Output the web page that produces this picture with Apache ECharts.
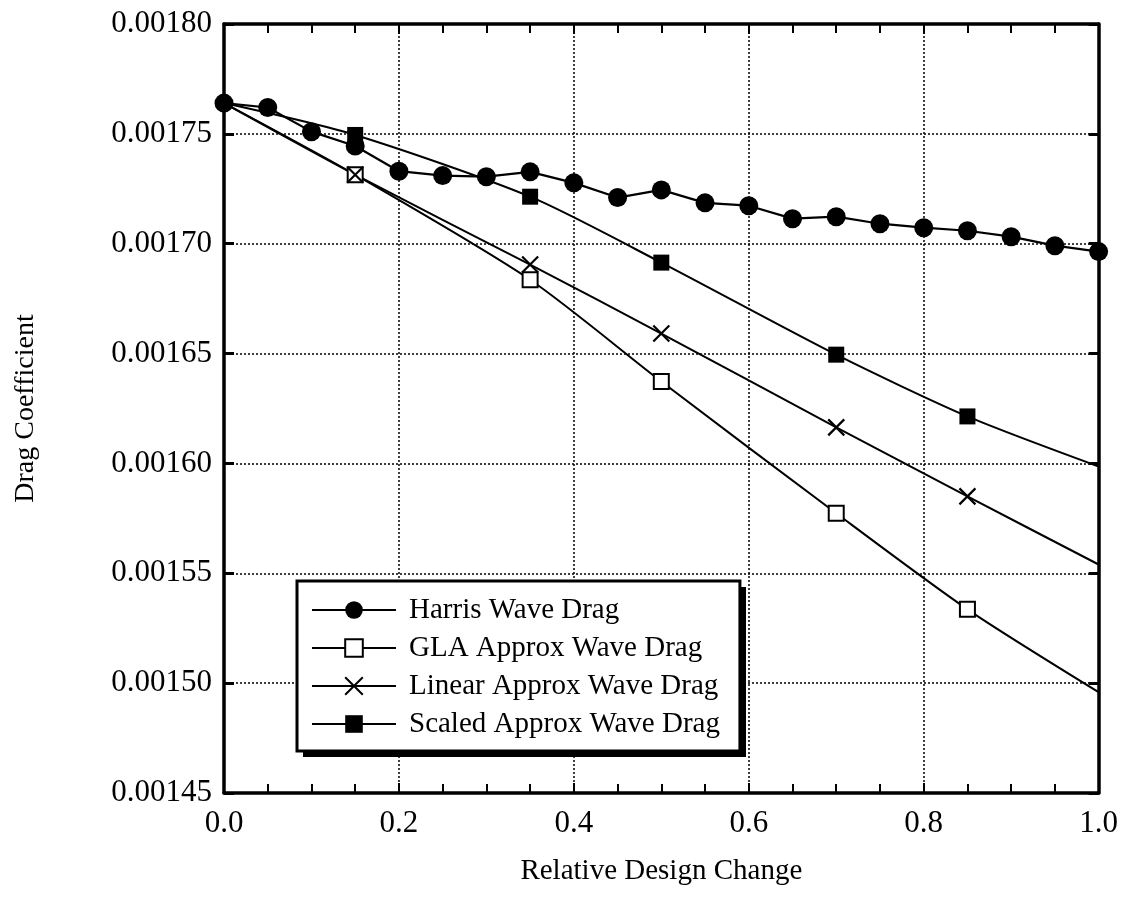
<!DOCTYPE html>
<html>
<head>
<meta charset="utf-8">
<script src="https://cdn.jsdelivr.net/npm/echarts@6/dist/echarts.min.js"></script>
<style>
  html, body { margin: 0; padding: 0; background: #fff; }
  #chart { width: 1121px; height: 914px; }
</style>
</head>
<body>
<div id="chart"></div>
<script>
// Wave drag coefficient versus relative design change
const harrisX = [0, 0.05, 0.1, 0.15, 0.2, 0.25, 0.3, 0.35, 0.4, 0.45, 0.5,
                 0.55, 0.6, 0.65, 0.7, 0.75, 0.8, 0.85, 0.9, 0.95, 1.0];
const harrisY = [0.0017640, 0.0017620, 0.0017510, 0.0017445, 0.0017330, 0.0017310, 0.0017305,
                 0.0017327, 0.0017277, 0.0017210, 0.0017245, 0.0017186, 0.0017173, 0.0017114,
                 0.0017123, 0.0017091, 0.0017073, 0.0017059, 0.0017032, 0.0016991, 0.0016964];

const approxX = [0, 0.15, 0.35, 0.5, 0.7, 0.85, 1.0];
const glaY    = [0.0017640, 0.0017314, 0.0016836, 0.0016373, 0.0015773, 0.0015336, 0.0014959];
const linearY = [0.0017640, 0.0017314, 0.0016905, 0.0016591, 0.0016164, 0.0015850, 0.0015540];
const scaledY = [0.0017640, 0.0017495, 0.0017214, 0.0016914, 0.0016495, 0.0016214, 0.0015986];

const seriesNames = ['Harris Wave Drag', 'GLA Approx Wave Drag',
                     'Linear Approx Wave Drag', 'Scaled Approx Wave Drag'];

const xTicks = { min: 0, max: 1, interval: 0.2 };
const yTicks = { min: 0.00145, max: 0.00180, interval: 0.00005 };

const FONT = "'Liberation Serif', 'Times New Roman', serif";
const crossPath = 'path://M0,0L10,10M10,0L0,10';

function pairs(xs, ys) { return xs.map((x, i) => [x, ys[i]]); }
// the approximation curves carry no marker at the two ends
function approxData(ys) {
  return approxX.map((x, i) => {
    const item = { value: [x, ys[i]] };
    if (i === 0 || i === approxX.length - 1) item.symbol = 'none';
    return item;
  });
}

const chart = echarts.init(document.getElementById('chart'), null, { renderer: 'canvas' });

const axisLineStyle = { color: '#000', width: 3.5 };
const gridLine = { show: true, lineStyle: { color: '#000', width: 1.5, type: [2, 2] } };

// legend box placement (pixels) and its drop shadow
const LEG = { left: 297, top: 581, width: 443, height: 170, shadow: 6 };

chart.setOption({
  backgroundColor: '#fff',
  animation: false,
  textStyle: { fontFamily: FONT, color: '#000' },
  grid: { left: 224, right: 21, top: 24, bottom: 121 },
  graphic: [{
    type: 'rect', z: 3, silent: true,
    shape: { x: LEG.left + LEG.shadow, y: LEG.top + LEG.shadow,
             width: LEG.width, height: LEG.height },
    style: { fill: '#000' }
  }],
  xAxis: [{
    type: 'value', min: xTicks.min, max: xTicks.max, interval: xTicks.interval,
    name: 'Relative Design Change', nameLocation: 'middle', nameGap: 64,
    nameTextStyle: { fontFamily: FONT, fontSize: 29, color: '#000' },
    axisLine: { show: true, onZero: false, lineStyle: axisLineStyle },
    axisTick: { show: true, inside: true, length: 10, lineStyle: { color: '#000', width: 2 } },
    minorTick: { show: true, splitNumber: 4, length: 9, lineStyle: { color: '#000', width: 2 } },
    axisLabel: { fontFamily: FONT, fontSize: 31, color: '#000', margin: 15,
                 formatter: v => v.toFixed(1) },
    splitLine: gridLine
  }, {
    type: 'value', position: 'top', min: xTicks.min, max: xTicks.max, interval: xTicks.interval,
    axisLine: { show: true, onZero: false, lineStyle: axisLineStyle },
    axisTick: { show: true, inside: true, length: 10, lineStyle: { color: '#000', width: 2 } },
    minorTick: { show: true, splitNumber: 4, length: 9, lineStyle: { color: '#000', width: 2 } },
    axisLabel: { show: false }, splitLine: { show: false }
  }],
  yAxis: [{
    type: 'value', min: yTicks.min, max: yTicks.max, interval: yTicks.interval,
    name: 'Drag Coefficient', nameLocation: 'middle', nameGap: 184, nameRotate: 90,
    nameTextStyle: { fontFamily: FONT, fontSize: 28, color: '#000' },
    axisLine: { show: true, onZero: false, lineStyle: axisLineStyle },
    axisTick: { show: true, inside: true, length: 10, lineStyle: { color: '#000', width: 3 } },
    axisLabel: { fontFamily: FONT, fontSize: 31, color: '#000', margin: 12,
                 formatter: v => v.toFixed(5) },
    splitLine: gridLine
  }, {
    type: 'value', position: 'right', min: yTicks.min, max: yTicks.max, interval: yTicks.interval,
    axisLine: { show: true, onZero: false, lineStyle: axisLineStyle },
    axisTick: { show: true, inside: true, length: 10, lineStyle: { color: '#000', width: 3 } },
    axisLabel: { show: false }, splitLine: { show: false }
  }],
  legend: {
    orient: 'vertical', left: LEG.left, top: LEG.top,
    padding: [14, 20, 12, 14],
    itemWidth: 84, itemHeight: 22, itemGap: 8,
    backgroundColor: '#fff', borderColor: '#000', borderWidth: 3,
    lineStyle: { width: 2 },
    textStyle: { fontFamily: FONT, fontSize: 29, color: '#000', lineHeight: 30,
                 padding: [0, 0, 0, 8] },
    data: seriesNames
  },
  series: [{
    name: seriesNames[0], type: 'line', z: 5,
    data: pairs(harrisX, harrisY),
    symbol: 'circle', symbolSize: 19,
    lineStyle: { color: '#000', width: 2.2 },
    itemStyle: { color: '#000', borderColor: '#000', borderWidth: 0 }
  }, {
    name: seriesNames[1], type: 'line', smooth: 0.25,
    data: approxData(glaY),
    symbol: 'rect', symbolSize: 15,
    lineStyle: { color: '#000', width: 2 },
    itemStyle: { color: '#fff', borderColor: '#000', borderWidth: 2 }
  }, {
    name: seriesNames[2], type: 'line', smooth: 0.25,
    data: approxData(linearY),
    symbol: crossPath, symbolSize: 16,
    lineStyle: { color: '#000', width: 2 },
    itemStyle: { color: '#000', borderColor: '#000', borderWidth: 2.2 }
  }, {
    name: seriesNames[3], type: 'line', smooth: 0.25,
    data: approxData(scaledY),
    symbol: 'rect', symbolSize: 16,
    lineStyle: { color: '#000', width: 2 },
    itemStyle: { color: '#000', borderColor: '#000', borderWidth: 0 }
  }]
});
</script>
</body>
</html>
